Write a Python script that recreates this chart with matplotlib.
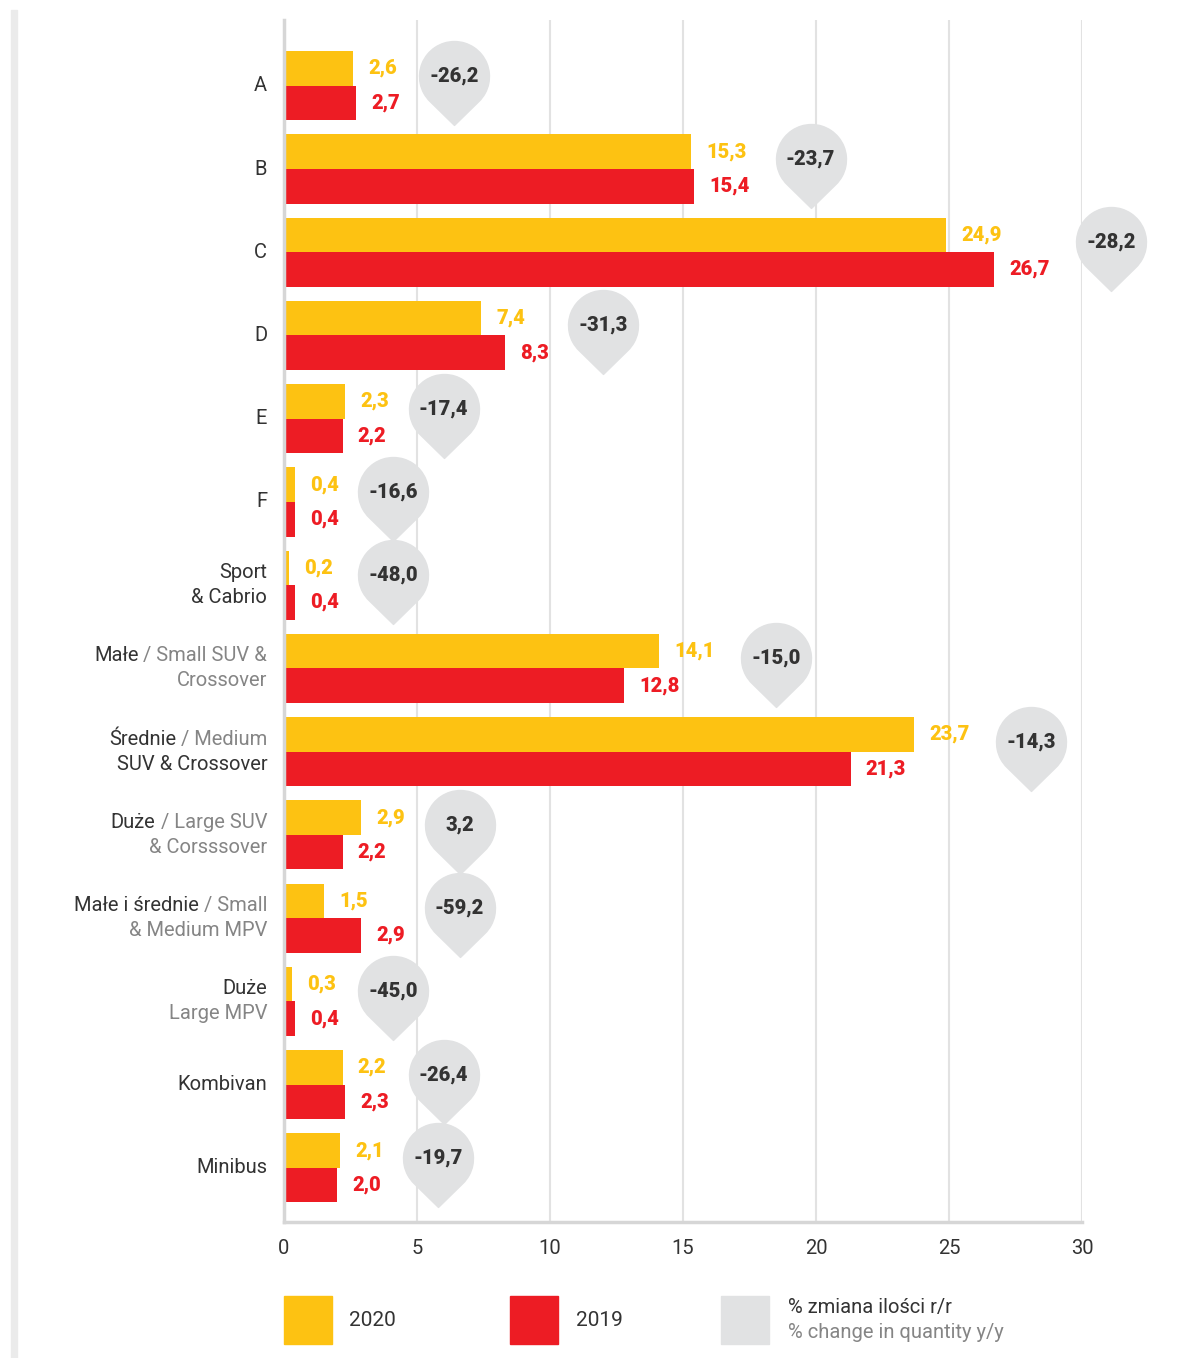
import re
import numpy as np
import matplotlib
matplotlib.use("Agg")
import matplotlib.pyplot as plt
import matplotlib.transforms as mtransforms
from matplotlib.path import Path
from matplotlib.patches import Rectangle

plt.rcParams['font.family'] = ['Roboto', 'DejaVu Sans']

# {...} marks the English (grey) part of a label
categories = [
    "A", "B", "C", "D", "E", "F",
    "Sport\n& Cabrio",
    "Małe{ / Small SUV &}\n{Crossover}",
    "Średnie{ / Medium}\nSUV & Crossover",
    "Duże{ / Large SUV}\n{& Corsssover}",
    "Małe i średnie{ / Small}\n{& Medium MPV}",
    "Duże\n{Large MPV}",
    "Kombivan",
    "Minibus",
]
share_2020 = [2.6, 15.3, 24.9, 7.4, 2.3, 0.4, 0.2, 14.1, 23.7, 2.9, 1.5, 0.3, 2.2, 2.1]
share_2019 = [2.7, 15.4, 26.7, 8.3, 2.2, 0.4, 0.4, 12.8, 21.3, 2.2, 2.9, 0.4, 2.3, 2.0]
change_yy = [-26.2, -23.7, -28.2, -31.3, -17.4, -16.6, -48.0, -15.0, -14.3, 3.2, -59.2, -45.0, -26.4, -19.7]
x_ticks = [0, 5, 10, 15, 20, 25, 30]
legend_years = ["2020", "2019"]
legend_change = ["% zmiana ilości r/r", "% change in quantity y/y"]

YELLOW = "#FDC212"
RED = "#ED1C24"
BUBBLE = "#E1E2E3"
DARK = "#333333"
GREY_TXT = "#858585"
GRID = "#E2E2E2"

W, H = 1178, 1358
fig = plt.figure(figsize=(W / 100, H / 100), dpi=100)
ax = fig.add_axes([284 / W, 1 - 1222 / H, 798 / W, 1202 / H])


def fmt(v):
    return f"{v:.1f}".replace(".", ",")


y = np.arange(len(categories))
bh = 0.415
ax.barh(y - bh / 2, share_2020, height=bh, color=YELLOW, zorder=2)
ax.barh(y + bh / 2, share_2019, height=bh, color=RED, zorder=2)

ax.set_xlim(0, 30)
ax.set_ylim(13.65, -0.79)
ax.set_xticks(x_ticks)
ax.set_xticklabels([str(t) for t in x_ticks])
ax.set_yticks([])
ax.tick_params(axis="x", length=0, pad=12, labelsize=14.5, labelcolor=DARK)
ax.grid(axis="x", color=GRID, lw=1.5)
ax.set_axisbelow(True)
for s in ["top", "right"]:
    ax.spines[s].set_visible(False)
for s in ["left", "bottom"]:
    ax.spines[s].set_color("#D6D6D6")
    ax.spines[s].set_linewidth(2.5)

# value labels
for i in range(len(categories)):
    ax.annotate(fmt(share_2020[i]), xy=(share_2020[i], i - bh / 2), xytext=(11, 0),
                textcoords="offset points", ha="left", va="center",
                color=YELLOW, fontsize=14.5, fontweight="black")
    ax.annotate(fmt(share_2019[i]), xy=(share_2019[i], i + bh / 2), xytext=(11, 0),
                textcoords="offset points", ha="left", va="center",
                color=RED, fontsize=14.5, fontweight="black")

# pin-shaped bubbles
arc = Path.arc(-45.6, 225.6)
pin = Path(np.vstack([arc.vertices, [[0, -1.4], [0, 0]]]),
           list(arc.codes) + [Path.LINETO, Path.CLOSEPOLY])
for i in range(len(categories)):
    top = max(share_2020[i], share_2019[i])
    n = len(fmt(top))
    bx = top + 1.6 + 0.7 * n
    by = i - 0.12
    ax.plot([bx], [by], marker=pin, ms=70.5, color=BUBBLE, ls="none",
            clip_on=False, zorder=3)
    ax.text(bx, by, fmt(change_yy[i]), ha="center", va="center",
            color=DARK, fontsize=14.5, fontweight="black", zorder=4)

# category labels with dark (PL) / grey (EN) parts
trans = mtransforms.blended_transform_factory(ax.transAxes, ax.transData)
line_pt = 18
for i, lab in enumerate(categories):
    lines = lab.split("\n")
    n = len(lines)
    for k, line in enumerate(lines):
        dy = ((n - 1) / 2 - k) * line_pt
        parts = [p for p in re.split(r"(\{[^}]*\})", line) if p]
        anchor = None
        for p in reversed(parts):
            en = p.startswith("{")
            txt = p.strip("{}")
            col = GREY_TXT if en else DARK
            if anchor is None:
                anchor = ax.annotate(txt, xy=(-0.021, i), xycoords=trans,
                                     xytext=(0, dy), textcoords="offset points",
                                     ha="right", va="center", color=col, fontsize=14.5,
                                     annotation_clip=False)
            else:
                anchor = ax.annotate(txt, xy=(0, 0.5), xycoords=anchor,
                                     ha="right", va="center", color=col, fontsize=14.5,
                                     annotation_clip=False)

# decorative left rule
fig.add_artist(Rectangle((11 / W, 0), 6 / W, (H - 10) / H, color="#EBEBEB",
                         transform=fig.transFigure))

# legend
def fig_rect(x, y0, w, h, c):
    fig.add_artist(Rectangle((x / W, 1 - (y0 + h) / H), w / W, h / H, color=c,
                             transform=fig.transFigure))

fig_rect(284, 1296, 48, 48, YELLOW)
fig.text(349 / W, 1 - 1320 / H, legend_years[0], ha="left", va="center",
         fontsize=15, color=DARK)
fig_rect(510, 1296, 48, 48, RED)
fig.text(576 / W, 1 - 1320 / H, legend_years[1], ha="left", va="center",
         fontsize=15, color=DARK)
fig_rect(721, 1296, 48, 48, BUBBLE)
fig.text(788 / W, 1 - 1307 / H, legend_change[0], ha="left", va="center",
         fontsize=14.5, color=DARK)
fig.text(788 / W, 1 - 1333 / H, legend_change[1], ha="left", va="center",
         fontsize=14.5, color=GREY_TXT)

fig.savefig("out.png", dpi=100, facecolor="white")
